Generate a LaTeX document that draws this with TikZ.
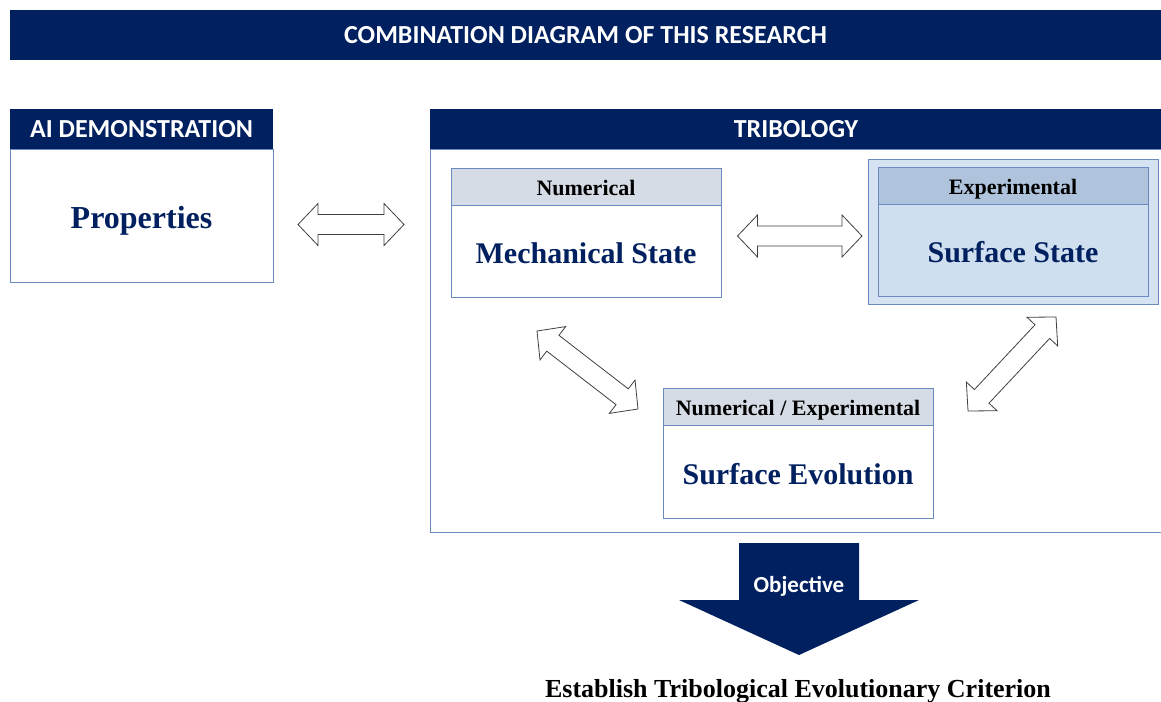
\documentclass[tikz,border=0pt]{standalone}
\usepackage{fontspec}
\setmainfont{Liberation Serif}
\newfontfamily\hdrfont{Carlito}
\usetikzlibrary{calc}
\definecolor{navy}{HTML}{002060}
\definecolor{bordblue}{HTML}{6A8AC0}
\definecolor{hdrgray}{HTML}{D6DCE5}
\definecolor{expouter}{HTML}{D5E2F2}
\definecolor{expinner}{HTML}{CFDFF0}
\definecolor{exphdr}{HTML}{AFC4DC}
\definecolor{arrowline}{HTML}{404040}
\newcommand\dblarrow[2]{%
  \path let \p1=(#1), \p2=(#2) in \pgfextra{%
    \pgfmathsetmacro\tmpang{atan2(\y2-\y1,\x2-\x1)}%
    \pgfmathsetmacro\tmplen{veclen(\x2-\x1,\y2-\y1)}%
    \xdef\arrang{\tmpang}\xdef\arrlen{\tmplen}};
  \draw[blockarrow, shift={(#1)}, rotate=\arrang]
    (0pt,0pt) -- (20pt,21pt) -- (20pt,10pt) -- (\arrlen pt-20pt,10pt)
    -- (\arrlen pt-20pt,21pt) -- (\arrlen pt,0pt) -- (\arrlen pt-20pt,-21pt)
    -- (\arrlen pt-20pt,-10pt) -- (20pt,-10pt) -- (20pt,-21pt) -- cycle;
}
\begin{document}
\begin{tikzpicture}[x=1pt,y=-1pt,
  every node/.style={inner sep=0pt, outer sep=0pt},
  navybar/.style={fill=navy, text=white, font=\hdrfont\bfseries\fontsize{26}{31}\selectfont, text height=17pt, text depth=0pt},
  boxbody/.style={draw=bordblue, line width=1pt, fill=white},
  lbl/.style={draw=bordblue, line width=1pt, fill=hdrgray, text=black, font=\bfseries\fontsize{22}{26}\selectfont, text height=18.5pt, text depth=0pt},
  big/.style={text=navy, font=\bfseries\fontsize{30}{36}\selectfont, text height=25pt, text depth=0pt},
  blockarrow/.style={draw=arrowline, line width=0.8pt, fill=white, line join=miter},
]
\useasboundingbox[fill=white] (0,0) rectangle (1161,701);

\node[navybar, minimum width=1151, minimum height=50, anchor=north west] (title) at (10,10) {COMBINATION DIAGRAM OF THIS RESEARCH};

\node[navybar, minimum width=263, minimum height=40, anchor=north west] (aihdr) at (10,109) {AI DEMONSTRATION};
\node[boxbody, big, font=\bfseries\fontsize{32}{38}\selectfont, minimum width=263, minimum height=133, anchor=north west] (prop) at (10,149) {Properties};

\node[navybar, minimum width=732, minimum height=40, anchor=north west] (tribhdr) at (430,109) {TRIBOLOGY};
\node[boxbody, minimum width=732, minimum height=383, anchor=north west] (tribbody) at (430,149) {};

\node[lbl, minimum width=270, minimum height=37, anchor=north west] (numhdr) at (451,168) {Numerical};
\node[boxbody, big, minimum width=270, minimum height=92, anchor=north west] (mech) at (451,205) {Mechanical State};

\node[draw=bordblue, line width=1pt, fill=expouter, minimum width=290, minimum height=145, anchor=north west] (expbox) at (868,159) {};
\node[lbl, fill=exphdr, minimum width=270, minimum height=37, anchor=north west] (exphdr) at (878,167) {Experimental};
\node[boxbody, big, fill=expinner, minimum width=270, minimum height=92, anchor=north west] (surf) at (878,204) {Surface State};

\node[lbl, minimum width=270, minimum height=37, anchor=north west] (nehdr) at (663,388) {Numerical / Experimental};
\node[boxbody, big, minimum width=270, minimum height=93, anchor=north west] (evol) at (663,425) {Surface Evolution};

\coordinate (a1s) at (298,224.5);
\coordinate (a1e) at (404,224.5);
\coordinate (a2s) at (737.5,236);
\coordinate (a2e) at (862,236);
\coordinate (a3s) at (537,331);
\coordinate (a3e) at (638,409);
\coordinate (a4s) at (1056,317);
\coordinate (a4e) at (968,411);
\dblarrow{a1s}{a1e}
\dblarrow{a2s}{a2e}
\dblarrow{a3s}{a3e}
\dblarrow{a4s}{a4e}

\fill[navy] (739,543) -- (859,543) -- (859,600) -- (919,600) -- (799,655) -- (679,600) -- (739,600) -- cycle;
\node[text=white, font=\hdrfont\bfseries\fontsize{23}{28}\selectfont, text height=14.5pt, text depth=0pt] (objtxt) at (799,585) {Objective};

\node[font=\bfseries\fontsize{26}{30}\selectfont, anchor=base] (crit) at (798,697) {Establish Tribological Evolutionary Criterion};
\end{tikzpicture}
\end{document}
